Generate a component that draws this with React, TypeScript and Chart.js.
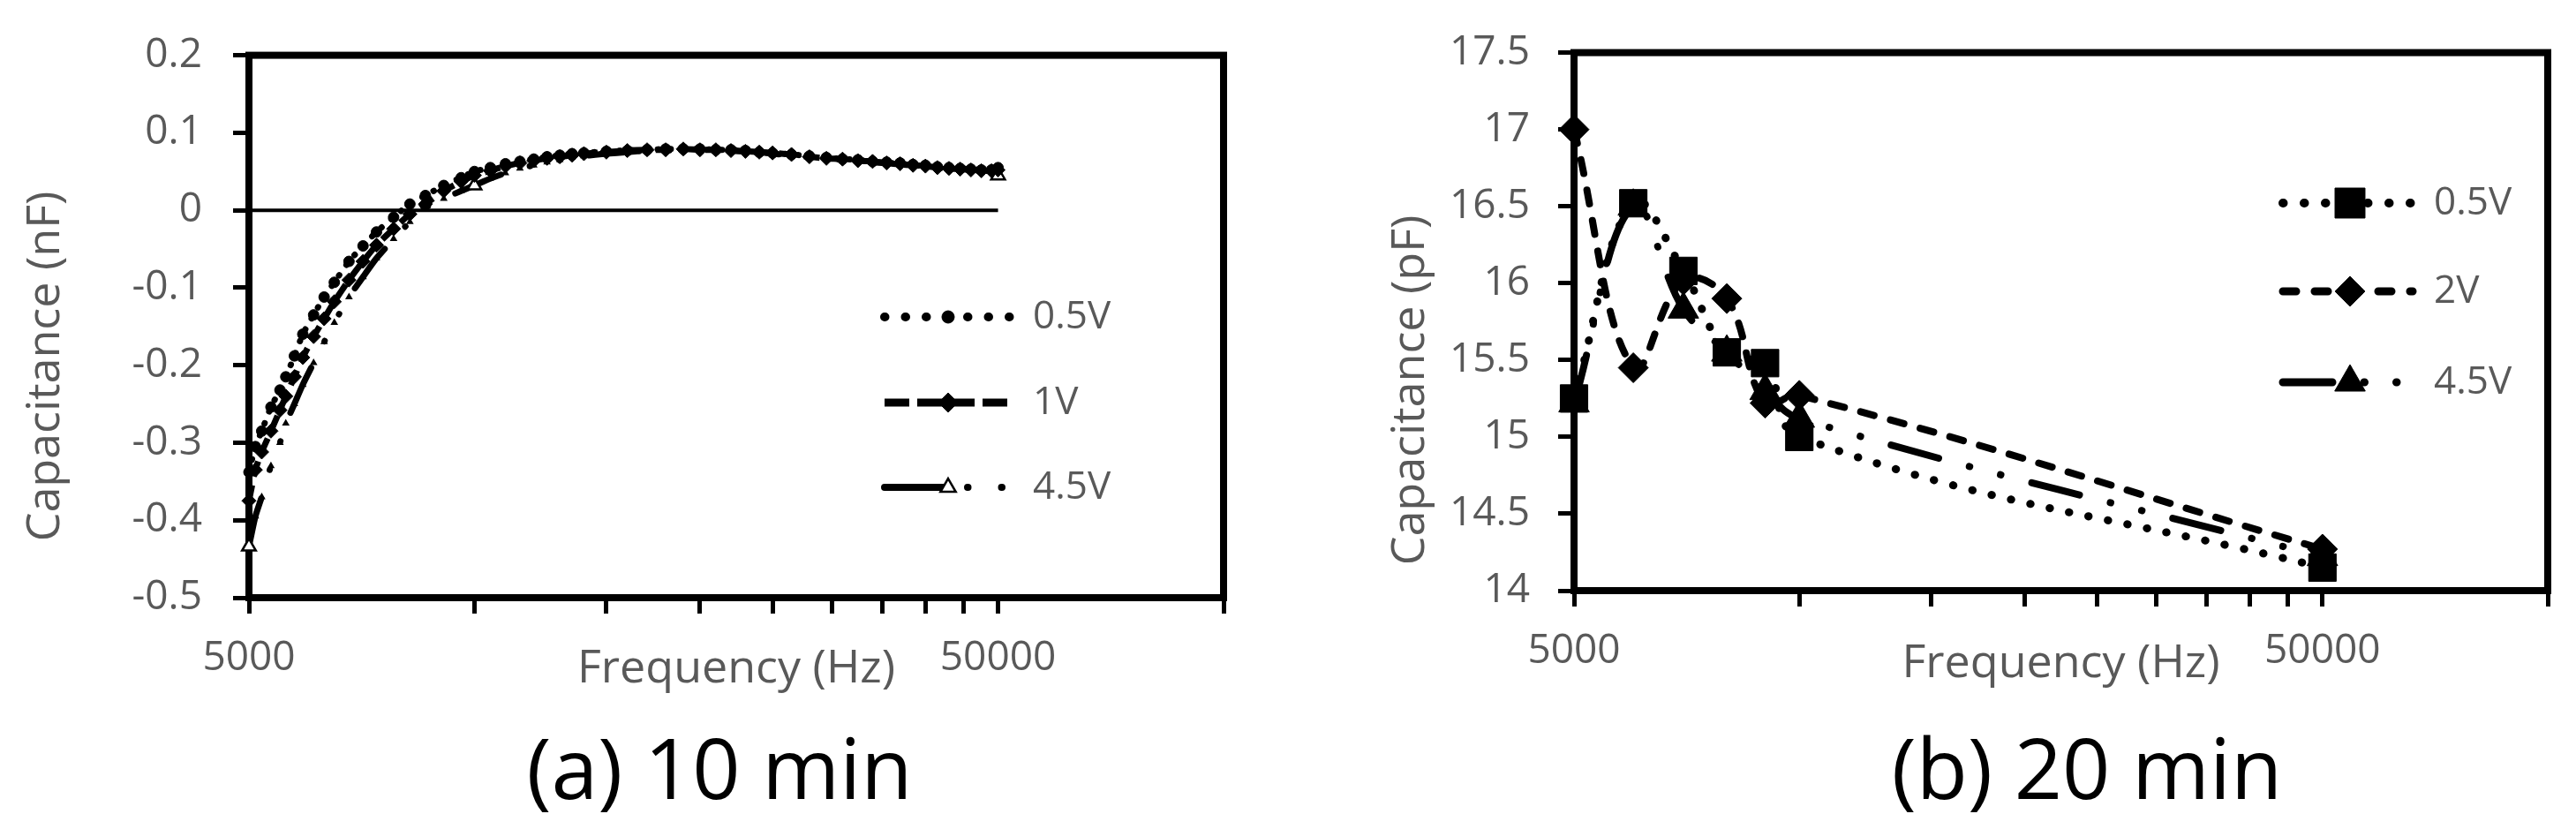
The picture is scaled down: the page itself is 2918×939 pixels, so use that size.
import React, { useEffect, useRef } from "react";
import { Chart, registerables } from "chart.js";

Chart.register(...registerables);

// ---------------- data : (a) 10 min ----------------
const FREQ_10MIN = [
  5000, 5100, 5200, 5350, 5500, 5600, 5750, 5900, 6100, 6300,
  6500, 6800, 7100, 7400, 7800, 8200, 8600, 9100, 9600, 10000,
  10500, 11000, 11500, 12000, 12500, 13000, 13500, 14000, 15000, 16000,
  17000, 18000, 19000, 20000, 21000, 22000, 23000, 24000, 25000, 26500,
  28000, 29500, 31000, 32500, 34000, 35500, 37000, 38500, 40000, 41500,
  43000, 44500, 46000, 47500, 49000, 50000,
];
const CAP_10MIN_05V = [
  -0.338, -0.305, -0.285, -0.254, -0.232, -0.215, -0.188, -0.16, -0.135, -0.112,
  -0.093, -0.066, -0.046, -0.028, -0.009, 0.008, 0.019, 0.032, 0.042, 0.05,
  0.055, 0.06, 0.063, 0.066, 0.069, 0.071, 0.073, 0.074, 0.076, 0.077,
  0.078, 0.079, 0.079, 0.079, 0.078, 0.078, 0.077, 0.075, 0.074, 0.072,
  0.07, 0.068, 0.066, 0.065, 0.063, 0.062, 0.061, 0.059, 0.058, 0.056,
  0.055, 0.054, 0.053, 0.052, 0.052, 0.055,
];
const CAP_10MIN_1V = [
  -0.375, -0.335, -0.312, -0.285, -0.258, -0.24, -0.215, -0.19, -0.163, -0.14,
  -0.118, -0.09, -0.066, -0.045, -0.024, -0.005, 0.008, 0.025, 0.037, 0.045,
  0.051, 0.057, 0.061, 0.064, 0.067, 0.069, 0.071, 0.073, 0.075, 0.077,
  0.078, 0.078, 0.079, 0.078, 0.078, 0.077, 0.076, 0.075, 0.074, 0.072,
  0.069, 0.067, 0.066, 0.064, 0.063, 0.061, 0.06, 0.058, 0.057, 0.055,
  0.054, 0.053, 0.052, 0.051, 0.051, 0.052,
];
const CAP_10MIN_45V = [
  -0.434, -0.395, -0.37, -0.33, -0.3, -0.275, -0.25, -0.225, -0.197, -0.17,
  -0.145, -0.112, -0.086, -0.062, -0.037, -0.015, 0.003, 0.015, 0.025, 0.032,
  0.041, 0.048, 0.054, 0.058, 0.062, 0.065, 0.068, 0.07, 0.073, 0.075,
  0.077, 0.077, 0.078, 0.078, 0.077, 0.077, 0.076, 0.075, 0.073, 0.071,
  0.069, 0.067, 0.065, 0.064, 0.062, 0.061, 0.059, 0.058, 0.057, 0.055,
  0.054, 0.053, 0.052, 0.051, 0.05, 0.045,
];
const ZERO_REF_FREQ = [5000, 50000];
const ZERO_REF_CAP = [0, 0];

// ---------------- data : (b) 20 min ----------------
const FREQ_20MIN = [5000, 6000, 7000, 8000, 9000, 10000, 50000];
const CAP_20MIN_05V = [15.25, 16.52, 16.08, 15.55, 15.48, 15.0, 14.15];
const CAP_20MIN_2V = [17.0, 15.45, 16.02, 15.9, 15.22, 15.27, 14.27];
const CAP_20MIN_45V = [15.22, 16.5, 15.83, 15.55, 15.3, 15.12, 14.22];

// ---------------- axes / text ----------------
const X_MIN = 5000;
const X_MAX = 100000;
const X_TICK_VALUES = [5000, 10000, 15000, 20000, 25000, 30000, 35000, 40000, 45000, 50000, 100000];
const X_TICK_LABELS = ["5000", "", "", "", "", "", "", "", "", "50000", ""];
const Y10_MIN = -0.5;
const Y10_MAX = 0.2;
const Y10_STEP = 0.1;
const Y20_MIN = 14;
const Y20_MAX = 17.5;
const Y20_STEP = 0.5;

const LABELS_10MIN = ["0.5V", "1V", "4.5V"];
const LABELS_20MIN = ["0.5V", "2V", "4.5V"];
const X_TITLE = "Frequency (Hz)";
const Y_TITLE_10MIN = "Capacitance (nF)";
const Y_TITLE_20MIN = "Capacitance (pF)";
const CAPTION_10MIN = "(a) 10 min";
const CAPTION_20MIN = "(b) 20 min";
// frequencies where the 4.5V (10 min) triangle markers stand out
const MARKED_45V_FREQ = [5000, 10000, 50000];

const FONT = "'Open Sans', 'Noto Sans', sans-serif";
const GRAY = "#595959";

Chart.defaults.font.family = FONT;

function xLabel(v: number) {
  const i = X_TICK_VALUES.indexOf(Number(v));
  return i >= 0 ? X_TICK_LABELS[i] : "";
}
function yLabel(v: number) {
  return String(parseFloat(Number(v).toFixed(2)));
}

function drawMarker(ctx: CanvasRenderingContext2D, style: string, x: number, y: number, r: number, fill: string, bw: number) {
  ctx.save();
  ctx.setLineDash([]);
  ctx.beginPath();
  if (style === "rect") {
    const s = r * Math.SQRT1_2;
    ctx.rect(x - s, y - s, 2 * s, 2 * s);
  } else if (style === "rectRot") {
    ctx.moveTo(x - r, y);
    ctx.lineTo(x, y - r);
    ctx.lineTo(x + r, y);
    ctx.lineTo(x, y + r);
    ctx.closePath();
  } else if (style === "triangle") {
    ctx.moveTo(x, y - r);
    ctx.lineTo(x + 0.866 * r, y + 0.5 * r);
    ctx.lineTo(x - 0.866 * r, y + 0.5 * r);
    ctx.closePath();
  } else {
    ctx.arc(x, y, r, 0, Math.PI * 2);
  }
  ctx.fillStyle = fill;
  ctx.fill();
  if (bw > 0) {
    ctx.lineWidth = bw;
    ctx.strokeStyle = "#000";
    ctx.stroke();
  }
  ctx.restore();
}

function makeDecor(cfg: any) {
  return {
    id: "decor",
    beforeDatasetsDraw(chart: any) {
      const { ctx, chartArea: a } = chart;
      ctx.save();
      ctx.strokeStyle = "#000";
      ctx.lineWidth = cfg.frameWidth;
      ctx.strokeRect(a.left, a.top, a.right - a.left, a.bottom - a.top);
      ctx.restore();
    },
    afterDatasetsDraw(chart: any) {
      const ctx: CanvasRenderingContext2D = chart.ctx;
      cfg.legend.rows.forEach((row: any) => {
        const ds = chart.data.datasets[row.datasetIndex];
        ctx.save();
        ctx.strokeStyle = "#000";
        ctx.lineWidth = row.width;
        ctx.lineCap = row.cap;
        ctx.setLineDash(row.dash);
        ctx.beginPath();
        ctx.moveTo(cfg.legend.x0, row.y);
        ctx.lineTo(cfg.legend.x1, row.y);
        ctx.stroke();
        ctx.restore();
        drawMarker(ctx, ds.pointStyle, cfg.legend.xm, row.y, row.markerRadius, ds.pointBackgroundColor, row.markerBorder);
        ctx.save();
        ctx.fillStyle = GRAY;
        ctx.font = `${cfg.legend.fontSize}px ${FONT}`;
        ctx.textAlign = "left";
        ctx.textBaseline = "middle";
        ctx.fillText(ds.label, cfg.legend.xt, row.y);
        ctx.restore();
      });
      cfg.texts.forEach((t: any) => {
        ctx.save();
        ctx.translate(t.x, t.y);
        if (t.rotation) ctx.rotate(t.rotation);
        ctx.fillStyle = t.color;
        ctx.font = `${t.size}px ${FONT}`;
        ctx.textAlign = "center";
        ctx.textBaseline = t.baseline;
        ctx.fillText(t.text, 0, 0);
        ctx.restore();
      });
    },
  };
}

function lineDataset(label: string, freq: number[], values: number[], s: any) {
  return {
    label,
    data: freq.map((f, i) => ({ x: f, y: values[i] })),
    borderColor: "#000",
    backgroundColor: s.fill,
    borderWidth: s.width,
    borderDash: s.dash,
    borderCapStyle: s.cap,
    tension: s.tension,
    pointStyle: s.marker,
    pointRadius: s.radius,
    pointBackgroundColor: s.fill,
    pointBorderColor: "#000",
    pointBorderWidth: s.markerBorder,
    fill: false,
    clip: false,
  };
}

function xScale(height: number, titlePad: number) {
  return {
    type: "logarithmic",
    min: X_MIN,
    max: X_MAX,
    afterBuildTicks: (s: any) => {
      s.ticks = X_TICK_VALUES.map((v) => ({ value: v }));
    },
    afterFit: (s: any) => {
      s.height = height;
    },
    ticks: {
      autoSkip: false,
      maxRotation: 0,
      minRotation: 0,
      padding: 23,
      color: GRAY,
      font: { family: FONT, size: 46 },
      callback: (v: number) => xLabel(v),
    },
    grid: {
      display: true,
      drawOnChartArea: false,
      drawTicks: true,
      tickLength: 18,
      tickWidth: 5,
      tickColor: "#000",
      lineWidth: 5,
      color: "#000",
    },
    border: { display: false },
    title: {
      display: true,
      text: X_TITLE,
      color: GRAY,
      font: { family: FONT, size: 52 },
      padding: { top: 0, bottom: titlePad },
    },
  };
}

function yScale(min: number, max: number, step: number, width: number, pad: number) {
  return {
    type: "linear",
    min,
    max,
    afterFit: (s: any) => {
      s.width = width;
    },
    ticks: {
      stepSize: step,
      autoSkip: false,
      padding: pad,
      color: GRAY,
      font: { family: FONT, size: 46 },
      callback: (v: number) => yLabel(v),
    },
    grid: {
      display: true,
      drawOnChartArea: false,
      drawTicks: true,
      tickLength: 18,
      tickWidth: 5,
      tickColor: "#000",
      lineWidth: 5,
      color: "#000",
    },
    border: { display: false },
  };
}

function config10(): any {
  const radius45 = FREQ_10MIN.map((f) => (MARKED_45V_FREQ.includes(f) ? 9 : 2.5));
  const datasets = [
    lineDataset(LABELS_10MIN[0], FREQ_10MIN, CAP_10MIN_05V, { width: 7, dash: [0.5, 14], cap: "round", tension: 0.2, marker: "circle", radius: 6, fill: "#000", markerBorder: 1 }),
    lineDataset(LABELS_10MIN[1], FREQ_10MIN, CAP_10MIN_1V, { width: 7, dash: [18, 10], cap: "butt", tension: 0.2, marker: "rectRot", radius: 8, fill: "#000", markerBorder: 1 }),
    lineDataset(LABELS_10MIN[2], FREQ_10MIN, CAP_10MIN_45V, { width: 7, dash: [56, 34, 0.5, 34, 0.5, 34], cap: "round", tension: 0.2, marker: "triangle", radius: radius45, fill: "#fff", markerBorder: 2.5 }),
    lineDataset("zero", ZERO_REF_FREQ, ZERO_REF_CAP, { width: 4, dash: [], cap: "butt", tension: 0, marker: "circle", radius: 0, fill: "#000", markerBorder: 0 }),
  ];
  const decor = makeDecor({
    frameWidth: 8,
    legend: {
      x0: 1002, x1: 1147, xm: 1074, xt: 1170, fontSize: 44,
      rows: [
        { datasetIndex: 0, y: 359, dash: [0.5, 23], width: 10, cap: "round", markerRadius: 7, markerBorder: 1 },
        { datasetIndex: 1, y: 456, dash: [28, 9], width: 9, cap: "butt", markerRadius: 11, markerBorder: 1 },
        { datasetIndex: 2, y: 552, dash: [66, 28, 0.5, 38, 0.5, 100], width: 8, cap: "round", markerRadius: 10, markerBorder: 2.5 },
      ],
    },
    texts: [
      { text: Y_TITLE_10MIN, x: 52, y: 415, rotation: -Math.PI / 2, size: 52, color: GRAY, baseline: "middle" },
      { text: CAPTION_10MIN, x: 815, y: 905, rotation: 0, size: 95, color: "#000", baseline: "alphabetic" },
    ],
  });
  return {
    type: "line",
    data: { datasets },
    plugins: [decor],
    options: {
      responsive: false,
      animation: false,
      events: [],
      layout: { autoPadding: false, padding: { left: 0, top: 62, right: 73, bottom: 0 } },
      plugins: { legend: { display: false }, tooltip: { enabled: false }, title: { display: false } },
      scales: {
        x: xScale(262, 150),
        y: yScale(Y10_MIN, Y10_MAX, Y10_STEP, 282, 35),
      },
    },
  };
}

function config20(): any {
  const datasets = [
    lineDataset(LABELS_20MIN[0], FREQ_20MIN, CAP_20MIN_05V, { width: 9, dash: [0.5, 22], cap: "round", tension: 0.4, marker: "rect", radius: 22, fill: "#000", markerBorder: 1 }),
    lineDataset(LABELS_20MIN[1], FREQ_20MIN, CAP_20MIN_2V, { width: 8, dash: [16, 19], cap: "round", tension: 0.4, marker: "rectRot", radius: 17, fill: "#000", markerBorder: 1 }),
    lineDataset(LABELS_20MIN[2], FREQ_20MIN, CAP_20MIN_45V, { width: 8, dash: [56, 36, 0.5, 36, 0.5, 36], cap: "round", tension: 0.4, marker: "triangle", radius: 20, fill: "#000", markerBorder: 1 }),
  ];
  const decor = makeDecor({
    frameWidth: 8,
    legend: {
      x0: 1127, x1: 1274, xm: 1203, xt: 1298, fontSize: 44,
      rows: [
        { datasetIndex: 0, y: 230, dash: [0.5, 23.5], width: 10, cap: "round", markerRadius: 24, markerBorder: 1 },
        { datasetIndex: 1, y: 330, dash: [15, 21], width: 9, cap: "round", markerRadius: 17, markerBorder: 1 },
        { datasetIndex: 2, y: 433, dash: [56, 36, 0.5, 36, 0.5, 200], width: 9, cap: "round", markerRadius: 20, markerBorder: 1 },
      ],
    },
    texts: [
      { text: Y_TITLE_20MIN, x: 139, y: 442, rotation: -Math.PI / 2, size: 52, color: GRAY, baseline: "middle" },
      { text: CAPTION_20MIN, x: 905, y: 905, rotation: 0, size: 95, color: "#000", baseline: "alphabetic" },
    ],
  });
  return {
    type: "line",
    data: { datasets },
    plugins: [decor],
    options: {
      responsive: false,
      animation: false,
      events: [],
      layout: { autoPadding: false, padding: { left: 0, top: 55, right: 32, bottom: 0 } },
      plugins: { legend: { display: false }, tooltip: { enabled: false }, title: { display: false } },
      scales: {
        x: xScale(270, 156),
        y: yScale(Y20_MIN, Y20_MAX, Y20_STEP, 324, 32),
      },
    },
  };
}

function Panel({ makeConfig, width, height }: { makeConfig: () => any; width: number; height: number }) {
  const ref = useRef<HTMLCanvasElement | null>(null);
  useEffect(() => {
    if (!ref.current) return;
    const chart = new Chart(ref.current, makeConfig());
    return () => chart.destroy();
  }, [makeConfig]);
  return (
    <canvas
      ref={ref}
      width={width}
      height={height}
      style={{ display: "block", width: `${width}px`, height: `${height}px` }}
    />
  );
}

export default function App() {
  useEffect(() => {
    document.body.style.margin = "0";
  }, []);
  return (
    <div style={{ position: "absolute", left: 0, top: 0, width: 2918, height: 939, display: "flex", background: "#fff" }}>
      <Panel makeConfig={config10} width={1459} height={939} />
      <Panel makeConfig={config20} width={1459} height={939} />
    </div>
  );
}
